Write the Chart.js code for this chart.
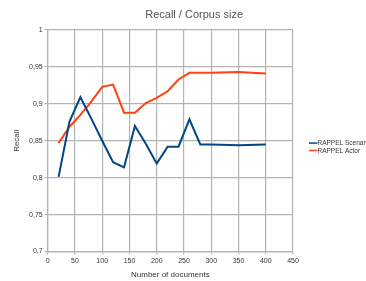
<!DOCTYPE html>
<html>
<head>
<meta charset="utf-8">
<script src="https://cdn.jsdelivr.net/npm/chart.js@4.4.1/dist/chart.umd.min.js"></script>
<style>
  body { margin: 0; background: #fff; }
  #wrap { width: 366px; height: 281px; }
</style>
</head>
<body>
<div id="wrap"><canvas id="recallChart" width="366" height="281"></canvas></div>
<script>
// corpus sizes (number of documents)
const docs = [20, 40, 60, 80, 100, 120, 140, 160, 180, 200, 220, 240, 260, 280, 300, 350, 400];
// recall values
const scenarRecall = [0.801, 0.876, 0.909, 0.880, 0.850, 0.821, 0.814, 0.870, 0.846, 0.819, 0.842, 0.842, 0.879, 0.845, 0.845, 0.844, 0.845];
const actorRecall = [0.847, 0.869, 0.885, 0.903, 0.923, 0.926, 0.888, 0.888, 0.901, 0.908, 0.917, 0.933, 0.942, 0.942, 0.942, 0.943, 0.941];
const seriesNames = ["RAPPEL Scenar", "RAPPEL Actor"];
const xTicks = [0, 50, 100, 150, 200, 250, 300, 350, 400, 450];
const yTicks = [0.7, 0.75, 0.8, 0.85, 0.9, 0.95, 1];

const FONT = "'Liberation Sans', Arial, sans-serif";
const GRID = "#b3b3b3";

// legend + title drawn by hand, LibreOffice style
const sideLegend = {
  id: "sideLegend",
  afterDraw(chart) {
    const { ctx, chartArea } = chart;
    ctx.save();
    // title
    ctx.font = "11px " + FONT;
    ctx.fillStyle = "#555";
    ctx.textAlign = "center";
    ctx.textBaseline = "middle";
    ctx.fillText("Recall / Corpus size", chartArea.left + chartArea.width * 0.597, 14.5);

    // legend
    const x0 = chartArea.right + 16;
    const cy = (chartArea.top + chartArea.bottom) / 2 + 6;
    ctx.font = "6.5px " + FONT;
    ctx.textAlign = "left";
    chart.data.datasets.forEach((ds, i) => {
      const y = cy + (i - 0.5) * 7.4;
      ctx.strokeStyle = ds.borderColor;
      ctx.lineWidth = 1.5;
      ctx.beginPath();
      ctx.moveTo(x0, y);
      ctx.lineTo(x0 + 8.5, y);
      ctx.stroke();
      ctx.fillStyle = "#333";
      ctx.fillText(ds.label, x0 + 8.5, y + 0.5);
    });
    ctx.restore();
  },
};

function commaNum(v) {
  return String(Number(v.toFixed(2))).replace(".", ",");
}

const ctx = document.getElementById("recallChart").getContext("2d");
new Chart(ctx, {
  type: "line",
  data: {
    datasets: [
      {
        label: seriesNames[0],
        data: docs.map((d, i) => ({ x: d, y: scenarRecall[i] })),
        borderColor: "#004586",
        borderWidth: 2,
        pointRadius: 0,
        tension: 0,
        fill: false,
      },
      {
        label: seriesNames[1],
        data: docs.map((d, i) => ({ x: d, y: actorRecall[i] })),
        borderColor: "#ff420e",
        borderWidth: 2,
        pointRadius: 0,
        tension: 0,
        fill: false,
      },
    ],
  },
  options: {
    responsive: false,
    animation: false,
    layout: { padding: { top: 30, right: 73, bottom: 0, left: 0 } },
    plugins: {
      legend: { display: false },
      title: { display: false },
      tooltip: { enabled: false },
    },
    scales: {
      x: {
        type: "linear",
        min: 0,
        max: 450,
        afterBuildTicks: (scale) => {
          scale.ticks = xTicks.map((v) => ({ value: v }));
        },
        afterFit: (scale) => {
          scale.height = 29.5;
        },
        grid: { color: GRID, tickLength: 3, lineWidth: 1.2 },
        border: { color: GRID, width: 1.2 },
        ticks: {
          font: { family: FONT, size: 7 },
          color: "#333",
          padding: 2,
          maxRotation: 0,
          callback: (v) => String(v),
        },
        title: {
          display: true,
          text: "Number of documents",
          font: { family: FONT, size: 8 },
          color: "#333",
          padding: { top: 0, bottom: 1.5 },
        },
      },
      y: {
        type: "linear",
        min: 0.7,
        max: 1,
        afterBuildTicks: (scale) => {
          scale.ticks = yTicks.map((v) => ({ value: v }));
        },
        afterFit: (scale) => {
          scale.width = 47.7;
        },
        grid: { color: GRID, tickLength: 3, lineWidth: 1.2 },
        border: { color: GRID, width: 1.2 },
        ticks: {
          font: { family: FONT, size: 7 },
          color: "#333",
          padding: 2,
          callback: (v) => commaNum(v),
        },
        title: {
          display: true,
          text: "Recall",
          font: { family: FONT, size: 8 },
          color: "#333",
          padding: { top: 12, bottom: 0 },
        },
      },
    },
  },
  plugins: [sideLegend],
});
</script>
</body>
</html>
